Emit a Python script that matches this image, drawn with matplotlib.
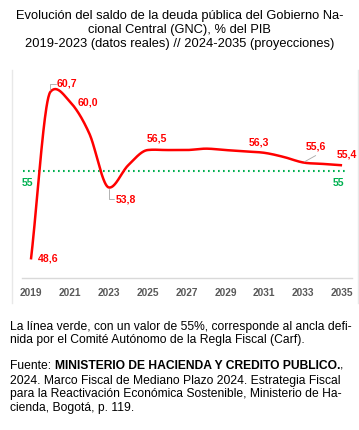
import numpy as np
import matplotlib
matplotlib.use("Agg")
import matplotlib.pyplot as plt

FILE_OUT = "out.png"

TITLE = ("Evolución del saldo de la deuda pública del Gobierno Na-\n"
         "cional Central (GNC), % del PIB\n"
         "2019-2023 (datos reales) // 2024-2035 (proyecciones)")

years = list(range(2019, 2036))
deuda = [48.6, 60.7, 60.0, 57.7, 53.8, 55.4, 56.5, 56.5, 56.5, 56.6,
         56.5, 56.4, 56.3, 56.0, 55.6, 55.5, 55.4]
ancla = 55
tick_years = list(range(2019, 2036, 2))

# year -> (dx, dy) offset of the data label, in points
label_offsets = {2019: (12.6, 1), 2020: (12, 6), 2021: (12.7, -1),
                 2023: (12.7, -9), 2025: (7, 8), 2031: (-3.6, 7.6),
                 2033: (9.4, 11.2), 2035: (3.2, 8.1)}

NOTA = ("La línea verde, con un valor de 55%, corresponde al ancla defi-\n"
        "nida por el Comité Autónomo de la Regla Fiscal (Carf).")
FUENTE_1 = ["Fuente: ", "MINISTERIO DE HACIENDA Y CREDITO PUBLICO.", ","]
FUENTE_2 = ("2024. Marco Fiscal de Mediano Plazo 2024. Estrategia Fiscal\n"
            "para la Reactivación Económica Sostenible, Ministerio de Ha-\n"
            "cienda, Bogotá, p. 119.")

RED = "#ff0000"
GREEN = "#00b050"
GRAY = "#a6a6a6"


def smooth(xs, ys, n=40):
    # cubic through every point, tangents eased at the turning points
    x = np.asarray(xs, float)
    y = np.asarray(ys, float)
    h = np.diff(x)
    d = np.diff(y) / h
    m = np.zeros_like(y)
    m[0], m[-1] = d[0], d[-1]
    for k in range(1, len(x) - 1):
        cr = (y[k + 1] - y[k - 1]) / (x[k + 1] - x[k - 1])
        if d[k - 1] * d[k] <= 0:
            m[k] = 0.3 * cr
        else:
            lim = 3 * min(abs(d[k - 1]), abs(d[k]))
            m[k] = np.sign(cr) * min(abs(cr), lim)
    out_x, out_y = [], []
    t = np.linspace(0, 1, n)
    for k in range(len(x) - 1):
        h00 = 2 * t ** 3 - 3 * t ** 2 + 1
        h10 = t ** 3 - 2 * t ** 2 + t
        h01 = -2 * t ** 3 + 3 * t ** 2
        h11 = t ** 3 - t ** 2
        out_x.extend(x[k] + t * h[k])
        out_y.extend(h00 * y[k] + h10 * h[k] * m[k] + h01 * y[k + 1] + h11 * h[k] * m[k + 1])
    return out_x, out_y


def fmt(v):
    return f"{v:.1f}".replace(".", ",")


def plot():
    plt.rcParams['font.family'] = ["Liberation Sans", "DejaVu Sans"]
    fig = plt.figure(figsize=(3.59, 4.30), dpi=100)

    fig.text(0.5, 1 - 10 / 430, TITLE, ha="center", va="top",
             fontsize=9.3, linespacing=1.2)

    ax = fig.add_axes([22 / 359, 152 / 430, 330 / 359, 208 / 430])
    ax.set_xlim(2018.54, 2035.51)
    ax.set_ylim(47.26, 62.28)

    cx, cy = smooth(years, deuda)
    ax.plot(cx, cy, color=RED, lw=1.8, solid_capstyle="butt", zorder=3)
    ax.axhline(ancla, xmin=0.003, xmax=0.982, color=GREEN, lw=1.5,
               linestyle=(0, (0.8, 1.6)), zorder=2)

    for yr, (dx, dy) in label_offsets.items():
        v = deuda[years.index(yr)]
        ax.annotate(fmt(v), (yr, v), xytext=(dx, dy),
                    textcoords="offset points", ha="center", va="center",
                    color=RED, fontsize=7.6, fontweight="bold", zorder=4)

    # leader lines for some labels
    ax.annotate("", (2020, 60.7), xytext=(4, 6), textcoords="offset points",
                arrowprops=dict(arrowstyle="-", color=GRAY, lw=0.6,
                                connectionstyle="angle,angleA=0,angleB=90,rad=0",
                                shrinkA=0, shrinkB=1))
    ax.annotate("", (2023, 53.8), xytext=(4, -8), textcoords="offset points",
                arrowprops=dict(arrowstyle="-", color=GRAY, lw=0.6,
                                connectionstyle="angle,angleA=0,angleB=90,rad=0",
                                shrinkA=0, shrinkB=1))
    ax.annotate("", (2033, 55.6), xytext=(9, 5), textcoords="offset points",
                arrowprops=dict(arrowstyle="-", color=GRAY, lw=0.6,
                                shrinkA=0, shrinkB=1))

    for xx in (2018.8, 2034.8):
        ax.annotate(str(ancla), (xx, ancla), xytext=(0, -8.5),
                    textcoords="offset points", ha="center", va="center",
                    color=GREEN, fontsize=7.6, fontweight="bold")

    for side in ("left", "right", "top"):
        ax.spines[side].set_visible(False)
    ax.spines["bottom"].set_color("#d9d9d9")
    ax.spines["bottom"].set_linewidth(1)
    ax.set_yticks([])
    ax.set_xticks(tick_years)
    ax.set_xticklabels([str(y) for y in tick_years], fontsize=7.3,
                       fontweight="bold", color="#595959")
    ax.tick_params(axis="x", length=0, pad=7.5)
    ax.patch.set_alpha(0)

    # light frame around the chart
    for xpix in (12, 358):
        fig.add_artist(plt.Line2D([xpix / 359] * 2, [1 - 70 / 430, 1 - 303 / 430],
                                  color="#e8e8e8", lw=1))

    fig.text(10 / 359, 1 - 321 / 430, NOTA, ha="left", va="top",
             fontsize=8.7, linespacing=1.15)

    # source line with a bold part
    renderer = fig.canvas.get_renderer()
    x = 10 / 359
    y = 1 - 360 / 430
    for i, piece in enumerate(FUENTE_1):
        t = fig.text(x, y, piece, ha="left", va="top", fontsize=8.7,
                     fontweight="bold" if i == 1 else "normal")
        w = t.get_window_extent(renderer).width
        x += w / fig.bbox.width
    fig.text(10 / 359, 1 - 375 / 430, FUENTE_2, ha="left", va="top",
             fontsize=8.7, linespacing=1.15)

    fig.savefig(FILE_OUT, dpi=100)


def main():
    plot()


if __name__ == "__main__":
    main()
